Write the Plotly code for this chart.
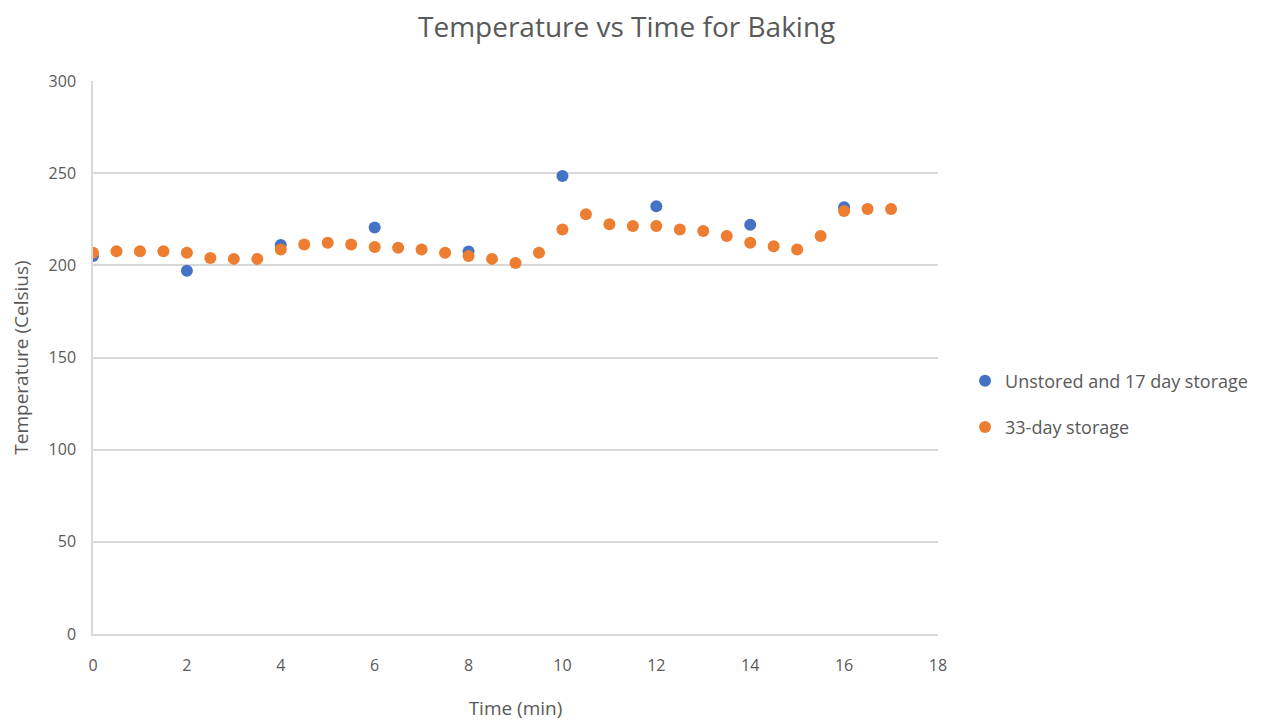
import plotly.graph_objects as go

# Data
blue_x = [0, 2, 4, 6, 8, 10, 12, 14, 16]
blue_y = [205, 197, 211, 220.5, 207.5, 248.5, 232, 222, 231.5]

orange_x = [0, 0.5, 1, 1.5, 2, 2.5, 3, 3.5, 4, 4.5, 5, 5.5, 6, 6.5, 7, 7.5, 8, 8.5,
            9, 9.5, 10, 10.5, 11, 11.5, 12, 12.5, 13, 13.5, 14, 14.5, 15, 15.5, 16, 16.5, 17]
orange_y = [206.8, 207.7, 207.7, 207.7, 206.8, 204, 203.5, 203.5, 208.6, 211.3, 212.2, 211.3,
            210, 209.5, 208.6, 206.8, 205, 203.5, 201.3, 206.8, 219.5, 227.7, 222.3, 221.3,
            221.3, 219.5, 218.6, 215.9, 212.2, 210.4, 208.6, 215.9, 229.5, 230.5, 230.5]

x_ticks = [0, 2, 4, 6, 8, 10, 12, 14, 16, 18]
y_ticks = [0, 50, 100, 150, 200, 250, 300]

FONT = "Open Sans"
GRAY = "#595959"

fig = go.Figure()
fig.add_trace(go.Scatter(x=blue_x, y=blue_y, mode="markers", name="Unstored and 17 day storage",
                         legendgroup="a", marker=dict(color="#4472C4", size=12)))
fig.add_trace(go.Scatter(x=orange_x, y=orange_y, mode="markers", name="33-day storage",
                         legendgroup="b", marker=dict(color="#ED7D31", size=12)))

fig.update_layout(
    width=1266, height=725,
    margin=dict(l=93, r=328, t=81, b=91, autoexpand=False),
    paper_bgcolor="white", plot_bgcolor="white",
    font=dict(family=FONT, color=GRAY),
    title=dict(text="Temperature vs Time for Baking", x=0.495, xanchor="center",
               y=0.963, yanchor="middle", font=dict(size=28, color=GRAY, family=FONT)),
    legend=dict(x=1.032, y=0.416, xanchor="left", yanchor="middle",
                font=dict(size=18, color=GRAY, family=FONT), itemsizing="constant",
                tracegroupgap=20, traceorder="grouped"),
    showlegend=True,
)
fig.update_xaxes(range=[0, 18], tickvals=x_ticks, showgrid=False, zeroline=False,
                 showline=True, linecolor="#d9d9d9", linewidth=1.5,
                 tickfont=dict(size=16, color=GRAY), ticklabelstandoff=16,
                 title=dict(text="Time (min)", font=dict(size=19, color=GRAY), standoff=27),
                 ticks="", ticklen=0)
fig.update_yaxes(range=[0, 300], tickvals=y_ticks, showgrid=True, gridcolor="#d9d9d9",
                 gridwidth=1.5, zeroline=False, showline=True, linecolor="#d9d9d9", linewidth=1.5,
                 tickfont=dict(size=16, color=GRAY), ticklabelstandoff=12,
                 title=dict(text="Temperature (Celsius)", font=dict(size=19, color=GRAY), standoff=15),
                 ticks="", ticklen=0)

fig.write_html("out.html")
